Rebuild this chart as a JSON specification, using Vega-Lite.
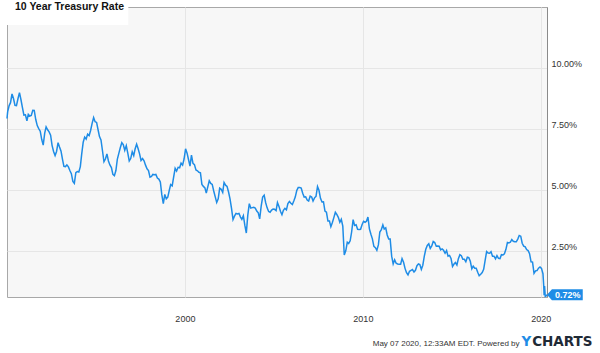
{
"$schema": "https://vega.github.io/schema/vega-lite/v6.json",
"width": 540,
"height": 290,
"autosize": {"type": "none"},
"padding": {"left": 7, "top": 7, "right": 53, "bottom": 56},
"background": "white",
"config": {
  "view": {"fill": "#f7f7f7", "stroke": "#a8a8a8", "strokeWidth": 1},
  "font": "Liberation Sans"
},
"title": {"text": "10 Year Treasury Rate", "anchor": "start", "frame": "group", "orient": "top", "offset": -13, "dx": 8, "baseline": "alphabetic", "fontSize": 10.5, "fontWeight": "bold", "color": "#111111", "font": "Liberation Sans", "zindex": 1},
"datasets": {
"rates": [
{"d":"1990-01-02","v":7.94},{"d":"1990-01-15","v":8.21},{"d":"1990-02-15","v":8.47},{"d":"1990-03-15","v":8.59},{"d":"1990-04-15","v":8.95},{"d":"1990-05-15","v":8.76},{"d":"1990-06-15","v":8.48},{"d":"1990-07-15","v":8.47},{"d":"1990-08-15","v":8.75},{"d":"1990-09-15","v":9.0},{"d":"1990-10-15","v":8.72},{"d":"1990-11-15","v":8.39},{"d":"1990-12-15","v":8.08},
{"d":"1991-01-15","v":8.09},{"d":"1991-02-15","v":7.85},{"d":"1991-03-15","v":8.11},{"d":"1991-04-15","v":8.04},{"d":"1991-05-15","v":8.07},{"d":"1991-06-15","v":8.28},{"d":"1991-07-15","v":8.27},{"d":"1991-08-15","v":7.9},{"d":"1991-09-15","v":7.65},{"d":"1991-10-15","v":7.53},{"d":"1991-11-15","v":7.42},{"d":"1991-12-15","v":7.09},
{"d":"1992-01-15","v":6.85},{"d":"1992-02-15","v":7.34},{"d":"1992-03-15","v":7.6},{"d":"1992-04-15","v":7.48},{"d":"1992-05-15","v":7.39},{"d":"1992-06-15","v":7.26},{"d":"1992-07-15","v":6.84},{"d":"1992-08-15","v":6.59},{"d":"1992-09-15","v":6.42},{"d":"1992-10-15","v":6.59},{"d":"1992-11-15","v":6.95},{"d":"1992-12-15","v":6.77},
{"d":"1993-01-15","v":6.6},{"d":"1993-02-15","v":6.26},{"d":"1993-03-15","v":5.98},{"d":"1993-04-15","v":5.97},{"d":"1993-05-15","v":6.04},{"d":"1993-06-15","v":5.96},{"d":"1993-07-15","v":5.81},{"d":"1993-08-15","v":5.68},{"d":"1993-09-15","v":5.36},{"d":"1993-10-15","v":5.28},{"d":"1993-11-15","v":5.72},{"d":"1993-12-15","v":5.77},
{"d":"1994-01-15","v":5.75},{"d":"1994-02-15","v":5.97},{"d":"1994-03-15","v":6.48},{"d":"1994-04-15","v":6.97},{"d":"1994-05-15","v":7.18},{"d":"1994-06-15","v":7.1},{"d":"1994-07-15","v":7.3},{"d":"1994-08-15","v":7.24},{"d":"1994-09-15","v":7.46},{"d":"1994-10-15","v":7.74},{"d":"1994-11-15","v":7.98},{"d":"1994-12-15","v":7.81},
{"d":"1995-01-15","v":7.78},{"d":"1995-02-15","v":7.47},{"d":"1995-03-15","v":7.2},{"d":"1995-04-15","v":7.06},{"d":"1995-05-15","v":6.63},{"d":"1995-06-15","v":6.17},{"d":"1995-07-15","v":6.28},{"d":"1995-08-15","v":6.49},{"d":"1995-09-15","v":6.2},{"d":"1995-10-15","v":6.04},{"d":"1995-11-15","v":5.93},{"d":"1995-12-15","v":5.65},
{"d":"1996-01-15","v":5.6},{"d":"1996-02-15","v":5.81},{"d":"1996-03-15","v":6.27},{"d":"1996-04-15","v":6.51},{"d":"1996-05-15","v":6.74},{"d":"1996-06-15","v":6.95},{"d":"1996-07-15","v":6.87},{"d":"1996-08-15","v":6.64},{"d":"1996-09-15","v":6.83},{"d":"1996-10-15","v":6.53},{"d":"1996-11-15","v":6.2},{"d":"1996-12-15","v":6.3},
{"d":"1997-01-15","v":6.58},{"d":"1997-02-15","v":6.42},{"d":"1997-03-15","v":6.69},{"d":"1997-04-15","v":6.89},{"d":"1997-05-15","v":6.71},{"d":"1997-06-15","v":6.49},{"d":"1997-07-15","v":6.22},{"d":"1997-08-15","v":6.3},{"d":"1997-09-15","v":6.21},{"d":"1997-10-15","v":6.03},{"d":"1997-11-15","v":5.88},{"d":"1997-12-15","v":5.81},
{"d":"1998-01-15","v":5.54},{"d":"1998-02-15","v":5.57},{"d":"1998-03-15","v":5.65},{"d":"1998-04-15","v":5.64},{"d":"1998-05-15","v":5.65},{"d":"1998-06-15","v":5.5},{"d":"1998-07-15","v":5.46},{"d":"1998-08-15","v":5.34},{"d":"1998-09-15","v":4.81},{"d":"1998-10-15","v":4.45},{"d":"1998-11-15","v":4.83},{"d":"1998-12-15","v":4.65},
{"d":"1999-01-15","v":4.72},{"d":"1999-02-15","v":5.0},{"d":"1999-03-15","v":5.23},{"d":"1999-04-15","v":5.18},{"d":"1999-05-15","v":5.54},{"d":"1999-06-15","v":5.9},{"d":"1999-07-15","v":5.79},{"d":"1999-08-15","v":5.94},{"d":"1999-09-15","v":5.92},{"d":"1999-10-15","v":6.11},{"d":"1999-11-15","v":6.03},{"d":"1999-12-15","v":6.28},
{"d":"2000-01-15","v":6.7},{"d":"2000-02-15","v":6.52},{"d":"2000-03-15","v":6.26},{"d":"2000-04-15","v":5.99},{"d":"2000-05-15","v":6.44},{"d":"2000-06-15","v":6.1},{"d":"2000-07-15","v":6.05},{"d":"2000-08-15","v":5.83},{"d":"2000-09-15","v":5.8},{"d":"2000-10-15","v":5.74},{"d":"2000-11-15","v":5.72},{"d":"2000-12-15","v":5.24},
{"d":"2001-01-15","v":5.16},{"d":"2001-02-15","v":5.1},{"d":"2001-03-15","v":4.89},{"d":"2001-04-15","v":5.14},{"d":"2001-05-15","v":5.39},{"d":"2001-06-15","v":5.28},{"d":"2001-07-15","v":5.24},{"d":"2001-08-15","v":4.97},{"d":"2001-09-15","v":4.73},{"d":"2001-10-15","v":4.5},{"d":"2001-11-15","v":4.65},{"d":"2001-12-15","v":5.09},
{"d":"2002-01-15","v":5.04},{"d":"2002-02-15","v":4.91},{"d":"2002-03-15","v":5.32},{"d":"2002-04-15","v":5.21},{"d":"2002-05-15","v":5.16},{"d":"2002-06-15","v":4.93},{"d":"2002-07-15","v":4.65},{"d":"2002-08-15","v":4.26},{"d":"2002-09-15","v":3.8},{"d":"2002-10-15","v":3.94},{"d":"2002-11-15","v":4.05},{"d":"2002-12-15","v":4.03},
{"d":"2003-01-15","v":4.05},{"d":"2003-02-15","v":3.9},{"d":"2003-03-15","v":3.81},{"d":"2003-04-15","v":3.96},{"d":"2003-05-15","v":3.57},{"d":"2003-06-15","v":3.25},{"d":"2003-07-15","v":3.98},{"d":"2003-08-15","v":4.45},{"d":"2003-09-15","v":4.27},{"d":"2003-10-15","v":4.29},{"d":"2003-11-15","v":4.3},{"d":"2003-12-15","v":4.27},
{"d":"2004-01-15","v":4.15},{"d":"2004-02-15","v":4.08},{"d":"2004-03-15","v":3.83},{"d":"2004-04-15","v":4.35},{"d":"2004-05-15","v":4.72},{"d":"2004-06-15","v":4.8},{"d":"2004-07-15","v":4.5},{"d":"2004-08-15","v":4.28},{"d":"2004-09-15","v":4.13},{"d":"2004-10-15","v":4.1},{"d":"2004-11-15","v":4.19},{"d":"2004-12-15","v":4.23},
{"d":"2005-01-15","v":4.22},{"d":"2005-02-15","v":4.17},{"d":"2005-03-15","v":4.5},{"d":"2005-04-15","v":4.34},{"d":"2005-05-15","v":4.14},{"d":"2005-06-15","v":4.0},{"d":"2005-07-15","v":4.18},{"d":"2005-08-15","v":4.26},{"d":"2005-09-15","v":4.2},{"d":"2005-10-15","v":4.46},{"d":"2005-11-15","v":4.54},{"d":"2005-12-15","v":4.47},
{"d":"2006-01-15","v":4.42},{"d":"2006-02-15","v":4.57},{"d":"2006-03-15","v":4.72},{"d":"2006-04-15","v":4.99},{"d":"2006-05-15","v":5.11},{"d":"2006-06-15","v":5.11},{"d":"2006-07-15","v":5.09},{"d":"2006-08-15","v":4.88},{"d":"2006-09-15","v":4.72},{"d":"2006-10-15","v":4.73},{"d":"2006-11-15","v":4.6},{"d":"2006-12-15","v":4.56},
{"d":"2007-01-15","v":4.76},{"d":"2007-02-15","v":4.72},{"d":"2007-03-15","v":4.56},{"d":"2007-04-15","v":4.69},{"d":"2007-05-15","v":4.75},{"d":"2007-06-15","v":5.15},{"d":"2007-07-15","v":5.0},{"d":"2007-08-15","v":4.67},{"d":"2007-09-15","v":4.52},{"d":"2007-10-15","v":4.53},{"d":"2007-11-15","v":4.15},{"d":"2007-12-15","v":4.1},
{"d":"2008-01-15","v":3.74},{"d":"2008-02-15","v":3.74},{"d":"2008-03-15","v":3.51},{"d":"2008-04-15","v":3.68},{"d":"2008-05-15","v":3.88},{"d":"2008-06-15","v":4.1},{"d":"2008-07-15","v":4.01},{"d":"2008-08-15","v":3.89},{"d":"2008-09-15","v":3.69},{"d":"2008-10-15","v":3.81},{"d":"2008-11-15","v":3.53},{"d":"2008-12-15","v":2.35},
{"d":"2009-01-15","v":2.52},{"d":"2009-02-15","v":2.87},{"d":"2009-03-15","v":2.82},{"d":"2009-04-15","v":2.93},{"d":"2009-05-15","v":3.29},{"d":"2009-06-15","v":3.8},{"d":"2009-07-15","v":3.56},{"d":"2009-08-15","v":3.59},{"d":"2009-09-15","v":3.4},{"d":"2009-10-15","v":3.39},{"d":"2009-11-15","v":3.4},{"d":"2009-12-15","v":3.59},
{"d":"2010-01-15","v":3.73},{"d":"2010-02-15","v":3.69},{"d":"2010-03-15","v":3.73},{"d":"2010-04-15","v":3.9},{"d":"2010-05-15","v":3.42},{"d":"2010-06-15","v":3.2},{"d":"2010-07-15","v":3.01},{"d":"2010-08-15","v":2.7},{"d":"2010-09-15","v":2.65},{"d":"2010-10-15","v":2.54},{"d":"2010-11-15","v":2.76},{"d":"2010-12-15","v":3.29},
{"d":"2011-01-15","v":3.39},{"d":"2011-02-15","v":3.58},{"d":"2011-03-15","v":3.41},{"d":"2011-04-15","v":3.46},{"d":"2011-05-15","v":3.17},{"d":"2011-06-15","v":3.0},{"d":"2011-07-15","v":3.0},{"d":"2011-08-15","v":2.3},{"d":"2011-09-15","v":1.98},{"d":"2011-10-15","v":2.15},{"d":"2011-11-15","v":2.01},{"d":"2011-12-15","v":1.98},
{"d":"2012-01-15","v":1.97},{"d":"2012-02-15","v":1.97},{"d":"2012-03-15","v":2.2},{"d":"2012-04-15","v":2.05},{"d":"2012-05-15","v":1.8},{"d":"2012-06-15","v":1.62},{"d":"2012-07-15","v":1.53},{"d":"2012-08-15","v":1.68},{"d":"2012-09-15","v":1.72},{"d":"2012-10-15","v":1.75},{"d":"2012-11-15","v":1.65},{"d":"2012-12-15","v":1.72},
{"d":"2013-01-15","v":1.91},{"d":"2013-02-15","v":1.98},{"d":"2013-03-15","v":1.96},{"d":"2013-04-15","v":1.76},{"d":"2013-05-15","v":1.93},{"d":"2013-06-15","v":2.3},{"d":"2013-07-15","v":2.58},{"d":"2013-08-15","v":2.74},{"d":"2013-09-15","v":2.81},{"d":"2013-10-15","v":2.62},{"d":"2013-11-15","v":2.72},{"d":"2013-12-15","v":2.9},
{"d":"2014-01-15","v":2.86},{"d":"2014-02-15","v":2.71},{"d":"2014-03-15","v":2.72},{"d":"2014-04-15","v":2.71},{"d":"2014-05-15","v":2.56},{"d":"2014-06-15","v":2.6},{"d":"2014-07-15","v":2.54},{"d":"2014-08-15","v":2.42},{"d":"2014-09-15","v":2.53},{"d":"2014-10-15","v":2.3},{"d":"2014-11-15","v":2.33},{"d":"2014-12-15","v":2.21},
{"d":"2015-01-15","v":1.88},{"d":"2015-02-15","v":1.98},{"d":"2015-03-15","v":2.04},{"d":"2015-04-15","v":1.94},{"d":"2015-05-15","v":2.2},{"d":"2015-06-15","v":2.36},{"d":"2015-07-15","v":2.32},{"d":"2015-08-15","v":2.17},{"d":"2015-09-15","v":2.17},{"d":"2015-10-15","v":2.07},{"d":"2015-11-15","v":2.26},{"d":"2015-12-15","v":2.24},
{"d":"2016-01-15","v":2.09},{"d":"2016-02-15","v":1.78},{"d":"2016-03-15","v":1.89},{"d":"2016-04-15","v":1.81},{"d":"2016-05-15","v":1.81},{"d":"2016-06-15","v":1.64},{"d":"2016-07-15","v":1.5},{"d":"2016-08-15","v":1.56},{"d":"2016-09-15","v":1.63},{"d":"2016-10-15","v":1.76},{"d":"2016-11-15","v":2.14},{"d":"2016-12-15","v":2.49},
{"d":"2017-01-15","v":2.43},{"d":"2017-02-15","v":2.42},{"d":"2017-03-15","v":2.48},{"d":"2017-04-15","v":2.3},{"d":"2017-05-15","v":2.3},{"d":"2017-06-15","v":2.19},{"d":"2017-07-15","v":2.32},{"d":"2017-08-15","v":2.21},{"d":"2017-09-15","v":2.2},{"d":"2017-10-15","v":2.36},{"d":"2017-11-15","v":2.35},{"d":"2017-12-15","v":2.4},
{"d":"2018-01-15","v":2.58},{"d":"2018-02-15","v":2.86},{"d":"2018-03-15","v":2.84},{"d":"2018-04-15","v":2.87},{"d":"2018-05-15","v":2.98},{"d":"2018-06-15","v":2.91},{"d":"2018-07-15","v":2.89},{"d":"2018-08-15","v":2.89},{"d":"2018-09-15","v":3.0},{"d":"2018-10-15","v":3.15},{"d":"2018-11-15","v":3.12},{"d":"2018-12-15","v":2.83},
{"d":"2019-01-15","v":2.71},{"d":"2019-02-15","v":2.68},{"d":"2019-03-15","v":2.57},{"d":"2019-04-15","v":2.53},{"d":"2019-05-15","v":2.4},{"d":"2019-06-15","v":2.07},{"d":"2019-07-15","v":2.06},{"d":"2019-08-15","v":1.6},{"d":"2019-09-15","v":1.7},{"d":"2019-10-15","v":1.71},{"d":"2019-11-15","v":1.81},{"d":"2019-12-15","v":1.86},
{"d":"2020-01-15","v":1.8},{"d":"2020-02-14","v":1.58},{"d":"2020-02-28","v":1.15},{"d":"2020-03-09","v":0.7},{"d":"2020-03-18","v":1.08},{"d":"2020-04-01","v":0.65},{"d":"2020-04-15","v":0.66},{"d":"2020-05-07","v":0.72}
]
},
"resolve": {"axis": {"x": "independent", "y": "independent"}},
"layer": [
  {
    "data": {"values": [{"box": 1}]},
    "mark": {"type": "rect", "fill": "white", "stroke": null},
    "encoding": {
      "x": {"datum": {"year": 1990, "month": 1, "date": 2, "utc": true}, "type": "temporal", "axis": null},
      "x2": {"datum": {"year": 1996, "month": 10, "date": 27, "utc": true}},
      "y": {"datum": 12.51, "type": "quantitative", "axis": null},
      "y2": {"datum": 11.77}
    }
  },
  {
    "data": {"name": "rates"},
    "mark": {"type": "line", "color": "#1e8ce6", "strokeWidth": 1.5},
    "encoding": {
      "x": {"field": "d", "type": "temporal",
        "scale": {"domain": [{"year": 1990, "month": 1, "date": 2, "utc": true}, {"year": 2020, "month": 5, "date": 7, "utc": true}], "nice": false},
        "axis": {"orient": "bottom", "values": [{"year": 2000, "month": 1, "date": 1, "utc": true}, {"year": 2010, "month": 1, "date": 1, "utc": true}, {"year": 2020, "month": 1, "date": 1, "utc": true}],
          "format": "%Y", "formatType": "utc", "grid": true, "gridColor": "#e6e6e6", "gridWidth": 1, "ticks": false, "tickSize": 0, "domain": false,
          "labelFont": "Liberation Sans", "labelFontSize": 9, "labelColor": "#333333", "labelBaseline": "alphabetic", "labelPadding": 24.7, "labelFlush": false,
          "title": "May 07 2020, 12:33AM EDT.  Powered by", "titleFont": "Liberation Sans", "titleFontSize": 8, "titleFontWeight": "normal", "titleColor": "#333333",
          "titleAlign": "right", "titleBaseline": "alphabetic", "titleX": 512, "titleY": 48.7, "titleAnchor": null}},
      "y": {"field": "v", "type": "quantitative",
        "scale": {"domain": [0.627, 12.51], "nice": false, "zero": false},
        "axis": {"orient": "right", "values": [2.5, 5, 7.5, 10], "labelExpr": "format(datum.value, '.2f') + '%'",
          "grid": true, "gridColor": "#e6e6e6", "gridWidth": 1, "ticks": false, "tickSize": 0, "domain": true, "domainColor": "#8a8a8a", "domainWidth": 1,
          "labelFont": "Liberation Sans", "labelFontSize": 9, "labelColor": "#333333", "labelPadding": 4, "labelAlign": "left", "labelBaseline": "alphabetic", "labelOffset": -1.5,
          "title": "Y", "titleFont": "DejaVu Sans", "titleFontSize": 13.5, "titleFontWeight": "bold", "titleColor": "#1e8ce6", "titleAngle": 0,
          "titleAlign": "left", "titleBaseline": "alphabetic", "titleX": -26, "titleY": 338.7, "titleAnchor": null}}
    }
  },
  {
    "data": {"values": [{"d": "2020-05-07", "v": 0.72, "label": "0.72%"}]},
    "mark": {"type": "point", "shape": "M0,0L0.9,-1L6.5,-1L6.5,1L0.9,1Z", "size": 121, "filled": true, "color": "#1e8ce6", "opacity": 1, "strokeWidth": 0},
    "encoding": {
      "x": {"field": "d", "type": "temporal",
        "axis": {"orient": "top", "labels": false, "ticks": false, "domain": false, "grid": false,
          "title": "CHARTS", "titleFont": "DejaVu Sans", "titleFontSize": 13.5, "titleFontWeight": "bold", "titleColor": "#1f2a36", "titleAngle": 0,
          "titleAlign": "right", "titleBaseline": "alphabetic", "titleX": 585, "titleY": 338.7, "titleAnchor": null}},
      "y": {"field": "v", "type": "quantitative", "axis": null}
    }
  },
  {
    "data": {"values": [{"d": "2020-05-07", "v": 0.72, "label": "0.72%"}]},
    "mark": {"type": "text", "align": "left", "baseline": "middle", "dx": 8, "dy": 0.5, "color": "white", "font": "Liberation Sans", "fontWeight": "bold", "fontSize": 9},
    "encoding": {
      "x": {"field": "d", "type": "temporal", "axis": null},
      "y": {"field": "v", "type": "quantitative", "axis": null},
      "text": {"field": "label"}
    }
  }
]
}
